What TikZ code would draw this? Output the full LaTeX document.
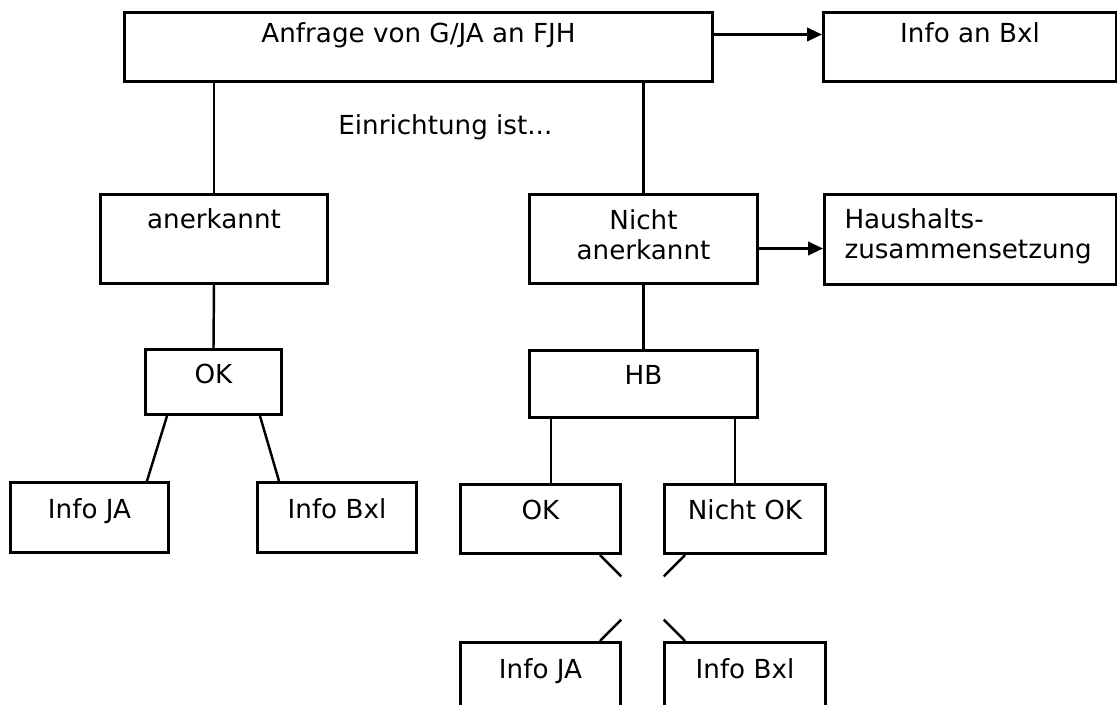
\documentclass[tikz,border=0pt]{standalone}
\usepackage{fontspec}
\setmainfont{DejaVu Sans}
\usepackage{tikz}
\usetikzlibrary{arrows.meta, positioning, calc}

\begin{document}
\begin{tikzpicture}[
  box/.style={draw, line width=1.7pt, inner sep=0pt, anchor=north west},
  con/.style={line width=1.4pt},
  arr/.style={con, -{Triangle[length=0.3cm, width=0.27cm]}},
  font=\fontsize{14.9}{17.1}\selectfont
]
\useasboundingbox (0,0) rectangle (22.34,-14.08);

% Anfrage
\node[box, minimum width=11.76cm, text height=0.6cm, text depth=0.78cm] (anfrage) at (2.46,-0.22) {Anfrage von G/JA an FJH};
\node[box, minimum width=5.86cm, text height=0.6cm, text depth=0.78cm] (infoan) at (16.44,-0.22) {Info an Bxl};

\node[anchor=base west, inner sep=0pt] (einr) at (6.76,-2.68) {Einrichtung ist...};

% Einrichtung
\node[box, minimum width=4.54cm, text height=0.68cm, text depth=1.1cm] (anerk) at (1.98,-3.86) {anerkannt};
\node[box, minimum width=4.56cm, text height=0.7cm, text depth=1.08cm] (nicht) at (10.56,-3.86) {
  \begin{tabular}[t]{@{}c@{}}
  Nicht \\
  anerkannt
  \end{tabular}
};
\node[box, text width=5.04cm, inner xsep=0.4cm, text height=0.68cm, text depth=1.12cm] (haus) at (16.46,-3.86) {
  \begin{tabular}[t]{@{}l@{}}
  Haushalts- \\
  zusammensetzung
  \end{tabular}
};

% zweite Ebene
\node[box, minimum width=2.72cm, text height=0.68cm, text depth=0.62cm] (okl) at (2.88,-6.96) {OK};
\node[box, minimum width=4.56cm, text height=0.68cm, text depth=0.66cm] (hb) at (10.56,-6.98) {HB};

\node[box, minimum width=3.16cm, text height=0.72cm, text depth=0.68cm] (infojal) at (0.18,-9.62) {Info JA};
\node[box, minimum width=3.18cm, text height=0.72cm, text depth=0.68cm] (infobxll) at (5.12,-9.62) {Info Bxl};

\node[box, minimum width=3.2cm, text height=0.7cm, text depth=0.68cm] (okm) at (9.18,-9.66) {OK};
\node[box, minimum width=3.22cm, text height=0.7cm, text depth=0.68cm] (nichtok) at (13.26,-9.66) {Nicht OK};

\node[box, minimum width=3.2cm, text height=0.72cm, text depth=0.62cm] (infojam) at (9.18,-12.82) {Info JA};
\node[box, minimum width=3.22cm, text height=0.72cm, text depth=0.62cm] (infobxlm) at (13.26,-12.82) {Info Bxl};

% Verbindungen
\draw[arr] ([yshift=0.25cm]anfrage.east) -- ([yshift=0.25cm]anfrage.east -| infoan.west);
\draw[con] (anerk.north |- anfrage.south) -- (anerk.north);
\draw[con] (nicht.north |- anfrage.south) -- (nicht.north);
\draw[arr] ([yshift=-0.19cm]nicht.east) -- ([yshift=-0.19cm]nicht.east -| haus.west);

\draw[con] (anerk.south) -- (okl.north);
\draw[con] ([xshift=0.46cm]okl.south west) -- ([xshift=-0.46cm]infojal.north east);
\draw[con] ([xshift=-0.46cm]okl.south east) -- ([xshift=0.46cm]infobxll.north west);

\draw[con] (nicht.south) -- (hb.north);
\draw[con] ([xshift=0.46cm]hb.south west) -- ([xshift=0.46cm]hb.south west |- okm.north);
\draw[con] ([xshift=-0.48cm]hb.south east) -- ([xshift=-0.48cm]hb.south east |- nichtok.north);

% Kreuz mit Luecke
\coordinate (a1) at ([xshift=-0.44cm]okm.south east);
\coordinate (b1) at ([xshift=0.44cm]infobxlm.north west);
\coordinate (a2) at ([xshift=0.44cm]nichtok.south west);
\coordinate (b2) at ([xshift=-0.44cm]infojam.north east);
\draw[con] (a1) -- ($(a1)!0.25!(b1)$) ($(a1)!0.75!(b1)$) -- (b1);
\draw[con] (a2) -- ($(a2)!0.25!(b2)$) ($(a2)!0.75!(b2)$) -- (b2);

\end{tikzpicture}
\end{document}
